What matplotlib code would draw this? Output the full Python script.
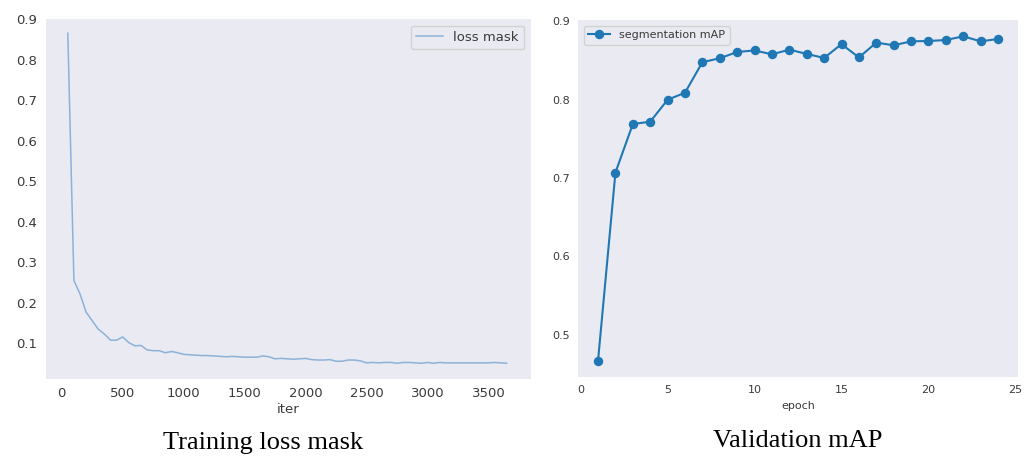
import matplotlib
matplotlib.use("Agg")
import matplotlib.pyplot as plt

# ---- data ----
loss_iter = list(range(50, 3651, 50))
loss_mask = [0.865, 0.255, 0.222, 0.177, 0.156, 0.135, 0.123, 0.108, 0.108, 0.116,
             0.102, 0.094, 0.095, 0.084, 0.082, 0.082, 0.077, 0.080, 0.077, 0.073,
             0.072, 0.071, 0.070, 0.070, 0.069, 0.068, 0.067, 0.068, 0.067, 0.066,
             0.066, 0.066, 0.069, 0.067, 0.062, 0.063, 0.062, 0.061, 0.062, 0.063,
             0.060, 0.059, 0.059, 0.060, 0.056, 0.056, 0.059, 0.059, 0.057, 0.052,
             0.053, 0.052, 0.053, 0.053, 0.051, 0.053, 0.053, 0.052, 0.051, 0.053,
             0.051, 0.053, 0.052, 0.052, 0.052, 0.052, 0.052, 0.052, 0.052, 0.052,
             0.053, 0.052, 0.051]
epochs = list(range(1, 25))
seg_map = [0.467, 0.707, 0.769, 0.772, 0.800, 0.809, 0.848, 0.853, 0.861, 0.863,
           0.858, 0.864, 0.8585, 0.8534, 0.871, 0.854, 0.873, 0.8695, 0.8746, 0.875,
           0.8763, 0.881, 0.8746, 0.8776]
left_xticks = [0, 500, 1000, 1500, 2000, 2500, 3000, 3500]
left_yticks = [0.1, 0.2, 0.3, 0.4, 0.5, 0.6, 0.7, 0.8, 0.9]
right_xticks = [0, 5, 10, 15, 20, 25]
right_yticks = [0.5, 0.6, 0.7, 0.8, 0.9]

BG = "#EAEAF2"
TXT = "#3a3a3a"

fig = plt.figure(figsize=(10.35, 4.57), dpi=100)

def style(ax, fs):
    ax.set_facecolor(BG)
    for s in ax.spines.values():
        s.set_visible(False)
    ax.tick_params(length=0, labelsize=fs, labelcolor=TXT, pad=6)
    ax.grid(False)

def style_legend(leg):
    leg.get_frame().set_facecolor(BG)
    leg.get_frame().set_edgecolor("#cccccc")
    for t in leg.get_texts():
        t.set_color(TXT)

# left panel
ax1 = fig.add_axes([0.0442, 0.1713, 0.4686, 0.7871])
style(ax1, 9.5)
ax1.plot(loss_iter, loss_mask, color="#8cb2d8", lw=1.1, label="loss mask")
ax1.set_xlim(-131, 3847)
ax1.set_ylim(0.0129, 0.8983)
ax1.set_xticks(left_xticks)
ax1.set_yticks(left_yticks)
ax1.set_yticklabels([f"{v:.1f}" for v in left_yticks])
ax1.set_xlabel("iter", fontsize=9.5, color=TXT, labelpad=2)
leg1 = ax1.legend(loc="upper right", fontsize=9.5, frameon=True, fancybox=True,
                  handlelength=2.0)
style_legend(leg1)

# right panel
ax2 = fig.add_axes([0.5585, 0.175, 0.4251, 0.781])
style(ax2, 8)
ax2.plot(epochs, seg_map, color="#1f77b4", lw=1.5, marker="o", ms=5.8,
         label="segmentation mAP")
ax2.set_xlim(-0.15, 25.15)
ax2.set_ylim(0.446, 0.9017)
ax2.set_xticks(right_xticks)
ax2.set_yticks(right_yticks)
ax2.set_yticklabels([f"{v:.1f}" for v in right_yticks])
ax2.set_xlabel("epoch", fontsize=8, color=TXT, labelpad=4)
leg2 = ax2.legend(loc="upper left", fontsize=8, frameon=True, fancybox=True)
style_legend(leg2)

# captions
fig.text(263 / 1035, 1 - 449 / 457, "Training loss mask", ha="center", va="baseline",
         fontsize=19, family="Liberation Serif", color="black")
fig.text(798 / 1035, 1 - 447 / 457, "Validation mAP", ha="center", va="baseline",
         fontsize=19, family="Liberation Serif", color="black")

fig.savefig("out.png", dpi=100, facecolor="white")
